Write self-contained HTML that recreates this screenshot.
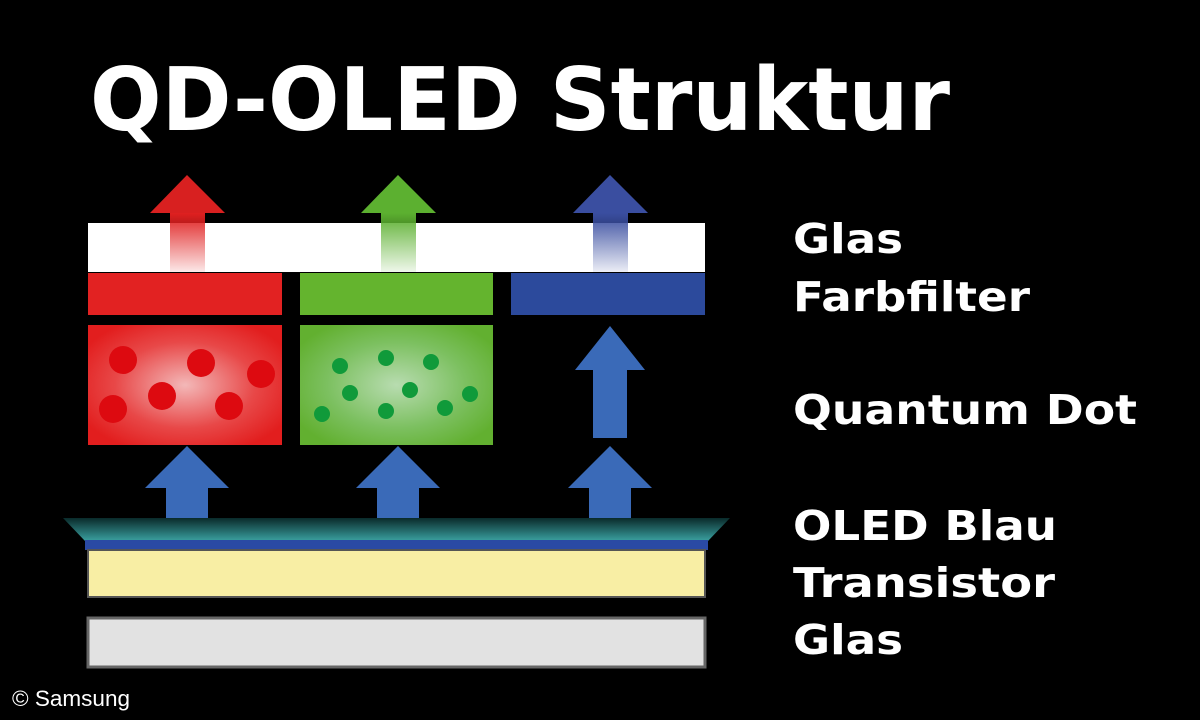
<!DOCTYPE html>
<html><head><meta charset="utf-8"><style>html,body{margin:0;padding:0;background:#000}svg{display:block}</style></head>
<body>
<svg width="1200" height="720" viewBox="0 0 1200 720" xmlns="http://www.w3.org/2000/svg">
<defs>
<radialGradient id="rg" cx="50%" cy="50%" r="60%"><stop offset="0" stop-color="#f3b8b8"/><stop offset="0.6" stop-color="#e84848"/><stop offset="1" stop-color="#e21e1e"/></radialGradient>
<radialGradient id="gg" cx="50%" cy="50%" r="60%"><stop offset="0" stop-color="#b8dcb0"/><stop offset="0.6" stop-color="#7cc060"/><stop offset="1" stop-color="#62b030"/></radialGradient>
<linearGradient id="rs" x1="0" y1="0" x2="0" y2="1"><stop offset="0" stop-color="#e02020"/><stop offset="1" stop-color="#e02020" stop-opacity="0.1"/></linearGradient>
<linearGradient id="gs" x1="0" y1="0" x2="0" y2="1"><stop offset="0" stop-color="#5cb030"/><stop offset="1" stop-color="#5cb030" stop-opacity="0.1"/></linearGradient>
<linearGradient id="bs" x1="0" y1="0" x2="0" y2="1"><stop offset="0" stop-color="#3a4ea0"/><stop offset="1" stop-color="#3a4ea0" stop-opacity="0.1"/></linearGradient>
<linearGradient id="tl" x1="0" y1="0" x2="0" y2="1"><stop offset="0" stop-color="#0a2a2a"/><stop offset="1" stop-color="#3aa0a0"/></linearGradient>
</defs>
<text x="90" y="130" font-family="DejaVu Sans" font-weight="bold" font-size="87" fill="#fff" textLength="860" lengthAdjust="spacingAndGlyphs">QD-OLED Struktur</text>

<polygon points="187,175 225,213 150,213" fill="#d82020"/>
<polygon points="398,175 436,213 361,213" fill="#5cb030"/>
<polygon points="610,175 648,213 573,213" fill="#3a4ea0"/>

<rect x="88" y="223" width="617" height="49" fill="#fff"/>
<rect x="170" y="213" width="35" height="59" fill="url(#rs)"/>
<rect x="381" y="213" width="35" height="59" fill="url(#gs)"/>
<rect x="593" y="213" width="35" height="59" fill="url(#bs)"/>

<rect x="88" y="273" width="194" height="42" fill="#e22222"/>
<rect x="300" y="273" width="193" height="42" fill="#64b42e"/>
<rect x="511" y="273" width="194" height="42" fill="#2c4a9c"/>

<rect x="88" y="325" width="194" height="120" fill="url(#rg)"/>
<g fill="#dd0a10">
<circle cx="123" cy="360" r="14"/><circle cx="201" cy="363" r="14"/><circle cx="261" cy="374" r="14"/>
<circle cx="162" cy="396" r="14"/><circle cx="113" cy="409" r="14"/><circle cx="229" cy="406" r="14"/>
</g>
<rect x="300" y="325" width="193" height="120" fill="url(#gg)"/>
<g fill="#109a3a">
<circle cx="340" cy="366" r="8"/><circle cx="386" cy="358" r="8"/><circle cx="431" cy="362" r="8"/>
<circle cx="350" cy="393" r="8"/><circle cx="410" cy="390" r="8"/><circle cx="470" cy="394" r="8"/>
<circle cx="322" cy="414" r="8"/><circle cx="386" cy="411" r="8"/><circle cx="445" cy="408" r="8"/>
</g>

<polygon points="610,326 645,370 575,370" fill="#3a6ab8"/>
<rect x="593" y="370" width="34" height="68" fill="#3a6ab8"/>

<g fill="#3a6ab8">
<polygon points="187,446 229,488 145,488"/><rect x="166" y="488" width="42" height="32"/>
<polygon points="398,446 440,488 356,488"/><rect x="377" y="488" width="42" height="32"/>
<polygon points="610,446 652,488 568,488"/><rect x="589" y="488" width="42" height="32"/>
</g>

<polygon points="63,518 730,518 708,541 85,541" fill="url(#tl)"/>
<rect x="85" y="540" width="623" height="10" fill="#2a4aa4"/>
<rect x="88" y="550" width="617" height="47" fill="#f8eea4" stroke="#555" stroke-width="2"/>
<rect x="88" y="618" width="617" height="49" fill="#e2e2e2" stroke="#666" stroke-width="3"/>

<g font-family="DejaVu Sans" font-weight="bold" font-size="41" fill="#fff">
<text x="793" y="253" textLength="110" lengthAdjust="spacingAndGlyphs">Glas</text>
<text x="793" y="311" textLength="237" lengthAdjust="spacingAndGlyphs">Farbfilter</text>
<text x="793" y="424" textLength="344" lengthAdjust="spacingAndGlyphs">Quantum Dot</text>
<text x="793" y="540" textLength="264" lengthAdjust="spacingAndGlyphs">OLED Blau</text>
<text x="793" y="597" textLength="262" lengthAdjust="spacingAndGlyphs">Transistor</text>
<text x="793" y="654" textLength="110" lengthAdjust="spacingAndGlyphs">Glas</text>
</g>
<text x="12" y="706" font-family="Liberation Sans" font-size="22" fill="#fff" textLength="118" lengthAdjust="spacingAndGlyphs">© Samsung</text>
</svg>
</body></html>
